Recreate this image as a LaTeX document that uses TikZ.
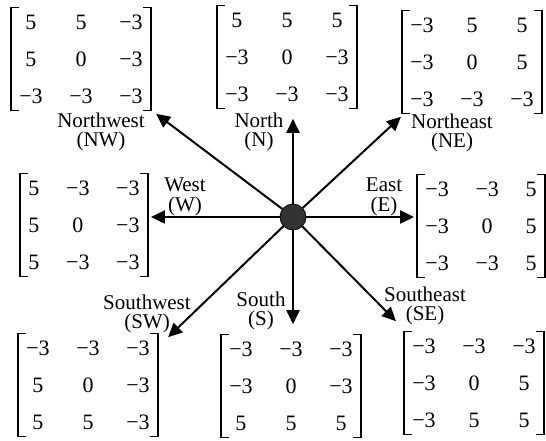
\documentclass[tikz,border=0pt]{standalone}
\usepackage{fontspec}
\setmainfont{Liberation Serif}
\usetikzlibrary{matrix,calc,arrows.meta}

\begin{document}
\begin{tikzpicture}[x=0.5pt,y=-0.5pt,font=\fontsize{10.5pt}{9.8pt}\selectfont,
          mat/.style={matrix of nodes,column sep=13.3pt,row sep=11.1pt,inner xsep=4pt,inner ysep=3.5pt,
            nodes={inner sep=0pt,text height=7.4pt,text depth=0pt,font=\fontsize{11pt}{12pt}\selectfont}},
          brk/.style={line width=0.65pt},
          lab/.style={align=center,inner sep=0pt},
          arr/.style={-{Triangle[length=7pt,width=6.5pt]},line width=1pt}]
        \useasboundingbox (0,0) rectangle (546,440);
        \node[circle,draw,fill=black!80,minimum size=13pt,inner sep=0pt] (c) at (293,217) {};
        \matrix[mat] (mNW) at (81,59) {5 & 5 & −3\\ 5 & 0 & −3\\ −3 & −3 & −3\\};
        \matrix[mat] (mN) at (287,57) {5 & 5 & 5\\ −3 & 0 & −3\\ −3 & −3 & −3\\};
        \matrix[mat] (mNE) at (472,62) {−3 & 5 & 5\\ −3 & 0 & 5\\ −3 & −3 & −3\\};
        \matrix[mat] (mW) at (84,225) {5 & −3 & −3\\ 5 & 0 & −3\\ 5 & −3 & −3\\};
        \matrix[mat] (mE) at (481,226) {−3 & −3 & 5\\ −3 & 0 & 5\\ −3 & −3 & 5\\};
        \matrix[mat] (mSW) at (88,385) {−3 & −3 & −3\\ 5 & 0 & −3\\ 5 & 5 & −3\\};
        \matrix[mat] (mS) at (291,386) {−3 & −3 & −3\\ −3 & 0 & −3\\ 5 & 5 & 5\\};
        \matrix[mat] (mSE) at (474,383) {−3 & −3 & −3\\ −3 & 0 & 5\\ −3 & 5 & 5\\};
        \foreach \m in {mNW,mN,mNE,mW,mE,mSW,mS,mSE} {
          \draw[brk] ([xshift=4pt]\m.north west) -- (\m.north west) -- (\m.south west) -- ([xshift=4pt]\m.south west);
          \draw[brk] ([xshift=-4pt]\m.north east) -- (\m.north east) -- (\m.south east) -- ([xshift=-4pt]\m.south east);
        }
        \node[lab] (lNW) at (101,132) {Northwest\\(NW)};
        \node[lab] (lN) at (259,132) {North\\(N)};
        \node[lab] (lNE) at (452,133) {Northeast\\(NE)};
        \node[lab] (lW) at (185,197) {West\\(W)};
        \node[lab] (lE) at (384,197) {East\\(E)};
        \node[lab] (lSW) at (147,314) {Southwest\\(SW)};
        \node[lab] (lS) at (261,311) {South\\(S)};
        \node[lab] (lSE) at (425,306) {Southeast\\(SE)};
        \draw[arr] (c) -- ($(mNW.south east)+(5,3)$);
        \draw[arr] (c) -- ($(c |- mN.south)+(0,10)$);
        \draw[arr] (c) -- ($(mNE.south west)+(-1,3)$);
        \draw[arr] (c) -- ($(c -| mW.east)+(3,0)$);
        \draw[arr] (c) -- ($(c -| mE.west)+(-3,0)$);
        \draw[arr] (c) -- ($(mSW.north east)+(10,4)$);
        \draw[arr] (c) -- ($(c |- mS.north)+(0,-10)$);
        \draw[arr] (c) -- ($(mSE.north west)+(-8,-10)$);
      \end{tikzpicture}
\end{document}
